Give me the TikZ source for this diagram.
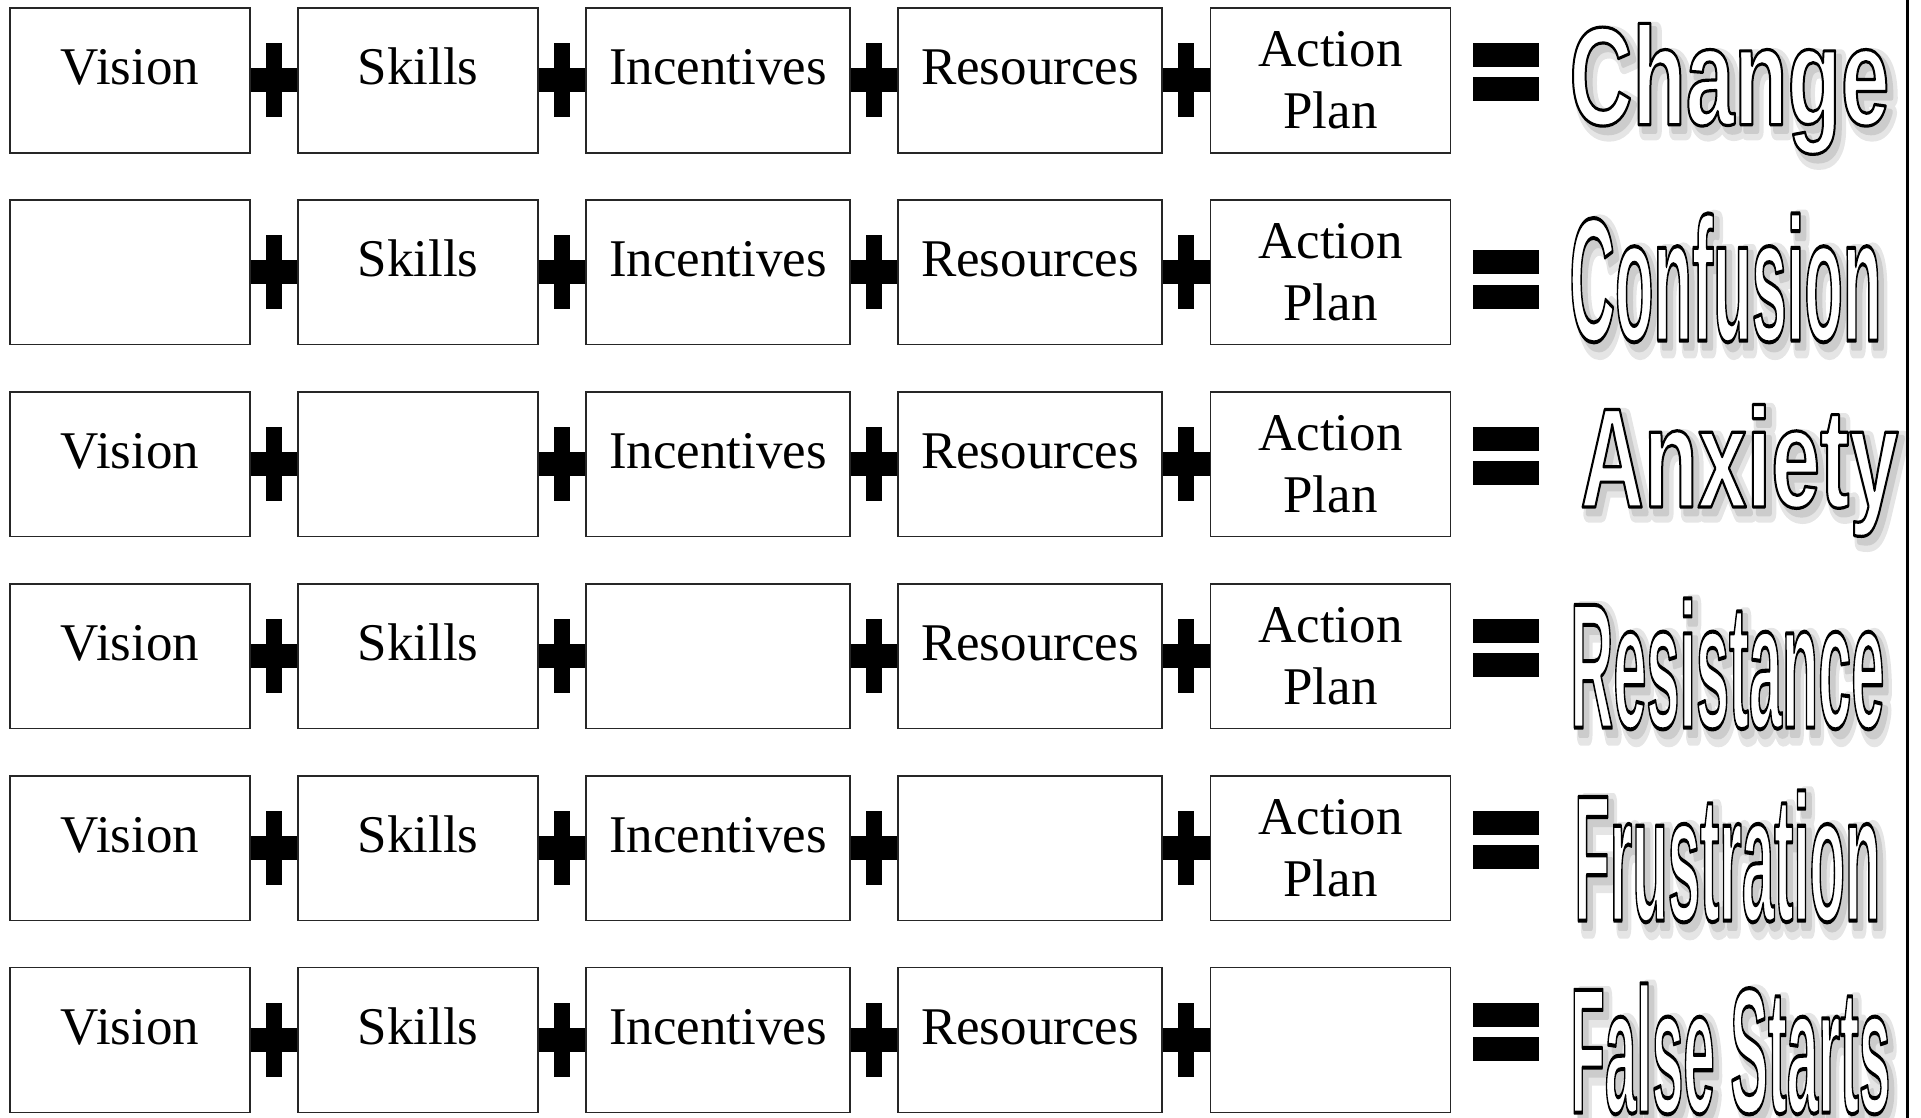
\documentclass[tikz,border=0pt]{standalone}
\usepackage{fontspec}
\usepackage{graphicx}
\newfontfamily\boxfont{Liberation Serif}
\newfontfamily\wordfont{Liberation Sans Bold}
% word art: white fill with black outline, soft grey shadow
\newcommand{\fitword}[3]{\resizebox*{#1}{#2}{#3}}
\newcommand{\outlined}[1]{\special{pdf:literal direct 2 Tr 0 G 1.5 w 1 j}#1\special{pdf:literal direct 0 Tr}}
\newcommand{\halo}[1]{\special{pdf:literal direct 2 Tr 0.9 G 8 w 1 j}#1\special{pdf:literal direct 0 Tr}}
\newcommand{\core}[1]{\special{pdf:literal direct 2 Tr 0.8 G 3 w 1 j}#1\special{pdf:literal direct 0 Tr}}

\tikzset{
  box/.style={draw=black!85, line width=0.75pt, fill=white, minimum height=72.3pt,
    inner sep=0pt, align=center, font=\boxfont\fontsize{26.5}{31}\selectfont},
  nbox/.style={box, minimum width=120.2pt},
  wbox/.style={box, minimum width=132pt},
  oneline/.style={text height=18pt, text depth=14pt},
  plus/.style={line width=12pt},
  plusbar/.style={fill=black, minimum width=8pt, minimum height=37pt, inner sep=0pt},
  eqbar/.style={fill=black, minimum width=33pt, minimum height=12pt, inner sep=0pt},
  halo/.style={anchor=north west, inner sep=0pt, text=black!10,
    font=\wordfont\fontsize{66}{66}\selectfont},
  shadow/.style={anchor=north west, inner sep=0pt, text=black!20,
    font=\wordfont\fontsize{66}{66}\selectfont},
  word/.style={anchor=north west, inner sep=0pt, text=white,
    font=\wordfont\fontsize{66}{66}\selectfont}
}

\begin{document}
\begin{tikzpicture}[x=0.5pt, y=-0.5pt]
    \useasboundingbox (0,0) rectangle (1921,1118);

    % Row 1
    \node[nbox, oneline] (v1) at (130,80.5) {Vision};
    \node[nbox, oneline] (s1) at (418,80.5) {Skills};
    \node[wbox, oneline] (i1) at (718,80.5) {Incentives};
    \node[wbox, oneline] (r1) at (1030,80.5) {Resources};
    \node[nbox] (a1) at (1330.5,80.5) {Action\\Plan};
    \draw[plus] (v1) -- node[plusbar] {} (s1);
    \draw[plus] (s1) -- node[plusbar] {} (i1);
    \draw[plus] (i1) -- node[plusbar] {} (r1);
    \draw[plus] (r1) -- node[plusbar] {} (a1);

    % Row 2
    \node[nbox] (v2) at (130,272.4) {};
    \node[nbox, oneline] (s2) at (418,272.4) {Skills};
    \node[wbox, oneline] (i2) at (718,272.4) {Incentives};
    \node[wbox, oneline] (r2) at (1030,272.4) {Resources};
    \node[nbox] (a2) at (1330.5,272.4) {Action\\Plan};
    \draw[plus] (v2) -- node[plusbar] {} (s2);
    \draw[plus] (s2) -- node[plusbar] {} (i2);
    \draw[plus] (i2) -- node[plusbar] {} (r2);
    \draw[plus] (r2) -- node[plusbar] {} (a2);

    % Row 3
    \node[nbox, oneline] (v3) at (130,464.3) {Vision};
    \node[nbox] (s3) at (418,464.3) {};
    \node[wbox, oneline] (i3) at (718,464.3) {Incentives};
    \node[wbox, oneline] (r3) at (1030,464.3) {Resources};
    \node[nbox] (a3) at (1330.5,464.3) {Action\\Plan};
    \draw[plus] (v3) -- node[plusbar] {} (s3);
    \draw[plus] (s3) -- node[plusbar] {} (i3);
    \draw[plus] (i3) -- node[plusbar] {} (r3);
    \draw[plus] (r3) -- node[plusbar] {} (a3);

    % Row 4
    \node[nbox, oneline] (v4) at (130,656.2) {Vision};
    \node[nbox, oneline] (s4) at (418,656.2) {Skills};
    \node[wbox] (i4) at (718,656.2) {};
    \node[wbox, oneline] (r4) at (1030,656.2) {Resources};
    \node[nbox] (a4) at (1330.5,656.2) {Action\\Plan};
    \draw[plus] (v4) -- node[plusbar] {} (s4);
    \draw[plus] (s4) -- node[plusbar] {} (i4);
    \draw[plus] (i4) -- node[plusbar] {} (r4);
    \draw[plus] (r4) -- node[plusbar] {} (a4);

    % Row 5
    \node[nbox, oneline] (v5) at (130,848.1) {Vision};
    \node[nbox, oneline] (s5) at (418,848.1) {Skills};
    \node[wbox, oneline] (i5) at (718,848.1) {Incentives};
    \node[wbox] (r5) at (1030,848.1) {};
    \node[nbox] (a5) at (1330.5,848.1) {Action\\Plan};
    \draw[plus] (v5) -- node[plusbar] {} (s5);
    \draw[plus] (s5) -- node[plusbar] {} (i5);
    \draw[plus] (i5) -- node[plusbar] {} (r5);
    \draw[plus] (r5) -- node[plusbar] {} (a5);

    % Row 6
    \node[nbox, oneline] (v6) at (130,1040) {Vision};
    \node[nbox, oneline] (s6) at (418,1040) {Skills};
    \node[wbox, oneline] (i6) at (718,1040) {Incentives};
    \node[wbox, oneline] (r6) at (1030,1040) {Resources};
    \node[nbox] (a6) at (1330.5,1040) {};
    \draw[plus] (v6) -- node[plusbar] {} (s6);
    \draw[plus] (s6) -- node[plusbar] {} (i6);
    \draw[plus] (i6) -- node[plusbar] {} (r6);
    \draw[plus] (r6) -- node[plusbar] {} (a6);

    % Equals signs
    \node[eqbar] at (1506,55) {}; \node[eqbar] at (1506,89) {};
    \node[eqbar] at (1506,262.5) {}; \node[eqbar] at (1506,296.5) {};
    \node[eqbar] at (1506,439) {}; \node[eqbar] at (1506,473) {};
    \node[eqbar] at (1506,631) {}; \node[eqbar] at (1506,665) {};
    \node[eqbar] at (1506,823) {}; \node[eqbar] at (1506,857) {};
    \node[eqbar] at (1506,1014.5) {}; \node[eqbar] at (1506,1048.5) {};

    % Outcomes: halo, shadow, then the word itself
    \node[halo] at (1575,30) {\halo{\fitword{160pt}{65.5pt}{Change}}};
    \node[halo] at (1575,220) {\halo{\fitword{156pt}{64.5pt}{Confusion}}};
    \node[halo] at (1586,411) {\halo{\fitword{159pt}{66pt}{Anxiety}}};
    \node[halo] at (1576,605) {\halo{\fitword{157pt}{65.5pt}{Resistance}}};
    \node[halo] at (1580,797) {\halo{\fitword{153pt}{66pt}{Frustration}}};
    \node[halo] at (1576,990) {\halo{\fitword{160pt}{65.5pt}{False Starts}}};
    \node[shadow] at (1574,29) {\core{\fitword{160pt}{65.5pt}{Change}}};
    \node[shadow] at (1574,219) {\core{\fitword{156pt}{64.5pt}{Confusion}}};
    \node[shadow] at (1585,410) {\core{\fitword{159pt}{66pt}{Anxiety}}};
    \node[shadow] at (1575,604) {\core{\fitword{157pt}{65.5pt}{Resistance}}};
    \node[shadow] at (1579,796) {\core{\fitword{153pt}{66pt}{Frustration}}};
    \node[shadow] at (1575,989) {\core{\fitword{160pt}{65.5pt}{False Starts}}};
    \node[word] (w1) at (1569,23) {\outlined{\fitword{160pt}{65.5pt}{Change}}};
    \node[word] (w2) at (1569,213) {\outlined{\fitword{156pt}{64.5pt}{Confusion}}};
    \node[word] (w3) at (1580,404) {\outlined{\fitword{159pt}{66pt}{Anxiety}}};
    \node[word] (w4) at (1570,598) {\outlined{\fitword{157pt}{65.5pt}{Resistance}}};
    \node[word] (w5) at (1574,790) {\outlined{\fitword{153pt}{66pt}{Frustration}}};
    \node[word] (w6) at (1570,983) {\outlined{\fitword{160pt}{65.5pt}{False Starts}}};

    % Right rule
    \draw[line width=1.5pt] (1907,0) -- (1907,1118);
\end{tikzpicture}
\end{document}
